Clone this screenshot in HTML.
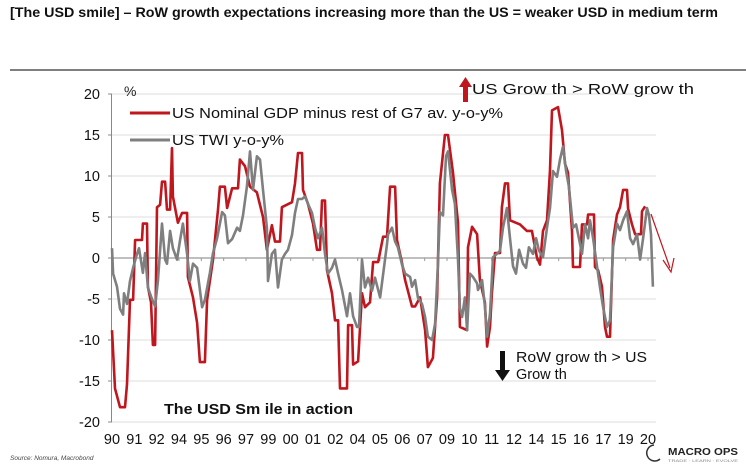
<!DOCTYPE html>
<html><head><meta charset="utf-8"><style>
html,body{margin:0;padding:0;background:#fff;}
svg{display:block;font-family:"Liberation Sans",sans-serif;}
</style></head><body>
<svg id="chart" width="746" height="464" viewBox="0 0 746 464">
  <text x="10" y="17" font-size="13.5" font-weight="bold" fill="#111" textLength="708" lengthAdjust="spacingAndGlyphs">[The USD smile] – RoW growth expectations increasing more than the US = weaker USD in medium term</text>
  <line x1="10" y1="70" x2="746" y2="70" stroke="#555" stroke-width="1.5"/>
  <g id="grid"></g>
  <g id="yaxis"></g>
  <g id="xaxis"></g>
  <g id="series"></g>
  <text x="124" y="96" font-size="14" fill="#222">%</text>
  <g>
    <g>
      <line x1="130" y1="113" x2="170" y2="113" stroke="#c0161e" stroke-width="3"/>
      <text x="172" y="118" font-size="14.5" fill="#111" textLength="331" lengthAdjust="spacingAndGlyphs">US Nominal GDP minus rest of G7 av. y-o-y%</text>
    </g>
    <g>
      <line x1="130" y1="140" x2="170" y2="140" stroke="#7f7f7f" stroke-width="3"/>
      <text x="172" y="145" font-size="14.5" fill="#111" textLength="112" lengthAdjust="spacingAndGlyphs">US TWI y-o-y%</text>
    </g>
  </g>
  <g>
    <rect x="463" y="86" width="5" height="16" fill="#c0161e"/>
    <polygon points="459,87 472,87 465.5,77" fill="#c0161e"/>
    <text x="472" y="94" font-size="14.5" fill="#111" textLength="222" lengthAdjust="spacingAndGlyphs">US Grow th &gt; RoW grow th</text>
  </g>
  <g>
    <rect x="500" y="351" width="5" height="20" fill="#111"/>
    <polygon points="495,370 510,370 502.5,381" fill="#111"/>
    <text x="516" y="362" font-size="14.5" fill="#111" textLength="131" lengthAdjust="spacingAndGlyphs">RoW grow th &gt; US</text>
    <text x="516" y="379" font-size="14.5" fill="#111">Grow th</text>
  </g>
  <g>
    <line x1="651" y1="214" x2="670" y2="268" stroke="#c0161e" stroke-width="1.2"/>
    <polyline points="663,260 671,272 674,258" fill="none" stroke="#c0161e" stroke-width="1.2"/>
  </g>
  <text x="164" y="414" font-size="15" font-weight="bold" fill="#111" textLength="189" lengthAdjust="spacingAndGlyphs">The USD Sm ile in action</text>
  <text x="10" y="460" font-size="6.5" font-style="italic" fill="#444">Source: Nomura, Macrobond</text>
  <g>
    <path d="M 654 445 A 8 8 0 1 0 660 459" fill="none" stroke="#333" stroke-width="1.5"/>
    <text x="668" y="455" font-size="10" font-weight="bold" fill="#222" textLength="70" lengthAdjust="spacingAndGlyphs">MACRO OPS</text>
    <text x="668" y="462" font-size="3.5" fill="#888" textLength="70" lengthAdjust="spacingAndGlyphs">TRADE · LEARN · EVOLVE</text>
  </g>
</svg>
<script>
const yTickValues = [20, 15, 10, 5, 0, -5, -10, -15, -20];
const xTickLabels = ["90","91","92","94","95","96","97","99","00","01","02","04","05","06","07","09","10","11","12","14","15","16","17","19","20"];
const gdpYears = [0.00,0.17,0.45,0.73,0.84,1.01,1.18,1.29,1.68,1.73,1.96,2.01,2.18,2.29,2.41,2.52,2.69,2.80,2.97,3.08,3.25,3.36,3.41,3.69,3.92,4.20,4.25,4.53,4.76,4.92,5.20,5.32,5.65,5.93,6.04,6.32,6.44,6.72,7.05,7.16,7.44,7.72,8.11,8.45,8.67,8.95,9.12,9.40,9.51,10.07,10.24,10.41,10.63,10.69,10.97,11.25,11.47,11.64,11.75,11.92,12.03,12.31,12.48,12.65,12.76,13.15,13.21,13.43,13.49,13.77,13.99,14.16,14.44,14.61,14.89,15.17,15.39,15.56,15.84,15.95,16.23,16.40,16.79,16.96,17.24,17.52,17.68,17.96,18.19,18.35,18.63,18.80,19.08,19.36,19.47,19.87,19.92,20.15,20.43,20.59,20.87,20.99,21.15,21.26,21.43,21.71,21.82,21.99,22.16,22.27,22.83,23.22,23.50,23.78,23.95,24.12,24.34,24.51,24.62,24.96,25.18,25.35,25.52,25.74,25.80,26.19,26.30,26.58,26.64,26.97,27.03,27.20,27.42,27.59,27.70,27.87,28.04,28.26,28.43,28.60,28.82,28.88,29.10,29.27,29.60,29.66,29.83];
const gdpValues = [-8.8,-15.9,-18.2,-18.2,-15.4,-5.1,-5.1,2.2,2.2,4.2,4.2,-3.5,-5.4,-10.6,-10.6,6.2,6.5,9.3,9.3,5.9,5.9,13.4,7.5,4.3,5.5,5.5,-2.3,-4.8,-7.9,-12.7,-12.7,-5.1,-0.2,5.9,8.7,8.7,6.1,8.5,8.5,12,11.2,8.7,8,5,1,4,2,2,6.2,6.8,9.1,12.8,12.8,8.3,6.6,4.2,1,1,7,7,-1.5,-4.3,-7.6,-7.6,-15.9,-15.9,-8.2,-8.2,-13,-12.6,-4.3,-6,-5.4,-0.5,-0.5,2.6,2.6,8.7,8.7,2.2,-0.6,-2.7,-5.9,-5.9,-4.8,-8.8,-13.3,-12.2,-4.8,9.1,15,15,10.4,4.3,-8.4,-8.8,1.3,3.8,2.9,-2.7,-5.4,-10.8,-8.4,-4.3,0.6,0.6,6.2,9.1,9.1,4.6,4.1,3.3,3.3,0.1,-0.8,3.3,4.6,10.7,18,18.4,15.6,11.5,10.4,3.3,-1.1,-1.1,4.1,4.1,5.3,5.3,-1.1,-1.5,-3.5,-8.4,-9.6,-9.6,2.2,5.3,6.2,8.3,8.3,6,4.1,2.9,2.9,5.7,6.3];
const twiYears = [0,0.06,0.28,0.45,0.62,0.67,0.84,1.01,1.18,1.40,1.51,1.73,1.85,2.01,2.24,2.41,2.57,2.80,2.97,3.08,3.25,3.41,3.64,3.81,3.97,4.20,4.36,4.53,4.76,5.04,5.20,5.48,5.65,5.88,6.16,6.32,6.49,6.72,7.00,7.16,7.33,7.55,7.72,7.89,8.11,8.28,8.45,8.67,8.73,8.95,9.12,9.29,9.51,9.68,9.85,10.07,10.24,10.41,10.63,10.80,10.97,11.19,11.36,11.53,11.75,11.92,12.09,12.31,12.48,12.65,12.87,13.15,13.32,13.49,13.71,13.82,13.99,14.16,14.33,14.55,14.72,15.00,15.17,15.39,15.45,15.67,15.84,16.00,16.23,16.40,16.68,16.79,16.96,17.12,17.35,17.52,17.68,17.91,18.08,18.24,18.35,18.52,18.69,18.80,19.03,19.19,19.36,19.47,19.59,19.75,19.87,20.03,20.20,20.43,20.48,20.71,20.87,20.99,21.15,21.32,21.54,21.71,21.88,22.10,22.27,22.44,22.61,22.78,23.00,23.17,23.33,23.56,23.73,23.89,24.12,24.34,24.51,24.68,24.90,25.07,25.24,25.41,25.57,25.80,25.97,26.13,26.30,26.47,26.64,26.75,26.92,27.14,27.31,27.48,27.70,27.87,28.04,28.26,28.43,28.60,28.82,28.99,29.16,29.38,29.55,29.72,29.94,30.05,30.16,30.27];
const twiValues = [1.2,-1.9,-3.5,-6.2,-6.9,-4.3,-5.6,-2.8,-1.2,0.5,1.2,-1.8,0.6,-3.6,-5,-5.9,-2.8,4.2,-0.2,-0.7,3.3,1.2,-0.2,2.2,4.2,0.5,-2.8,-0.7,-1.2,-6,-5.1,-1.8,0.6,2.4,5.6,5.2,1.8,2.3,3.7,3.3,5.2,8.7,13,8.3,12.4,12,8.3,3.7,-2.8,0.5,1,-3.6,-0.2,0.5,1,2.8,5.5,7.2,7.2,7.5,6.6,5.5,3.7,2.4,3.7,0.5,-1.9,-1.2,-0.2,-1.9,-3.9,-7.1,-4.3,-7.1,-8.4,-8.4,-0.2,-3.6,-2.4,-4,-2.4,-4.8,-2,1.7,2.9,3.7,2,1.3,-0.8,-1.9,-2.3,-3.5,-2.7,-4.8,-5.6,-7.2,-9.6,-10,-8,-0.8,5.6,5.2,12.4,13,8.3,6.6,-0.2,-6.1,-7.2,-4.8,-8.8,-1.9,-2.3,-3.1,-3.9,-2.7,-5.9,-9.6,-6.8,0.1,0.5,0.9,3.7,6.1,2.4,-1,-1.9,1,-0.7,-1.2,1.3,0.5,2.4,0.9,0.1,3.7,6.1,10.6,9.9,12,13.6,10.6,8.7,3.7,4.1,2.4,0.5,4.1,2.4,4.6,2.4,-1,-3.6,-6,-8.4,-7.6,1.3,4.2,3.4,4.6,5.7,2.4,1.7,2.9,-0.2,2.4,6.1,5.2,2.9,-3.5];

const NS = "http://www.w3.org/2000/svg";
const plotL = 112, plotR = 656, y0px = 258, pxPerUnit = 8.2, pxPerYear = 17.87;
function xScale(t){ return plotL + t * pxPerYear; }
function yScale(v){ return y0px - v * pxPerUnit; }
function mk(tag, attrs, parent){ const e = document.createElementNS(NS, tag); for (const k in attrs) e.setAttribute(k, attrs[k]); parent.appendChild(e); return e; }

const grid = document.getElementById('grid');
const yaxis = document.getElementById('yaxis');
yTickValues.forEach(v => {
  const y = yScale(v);
  const gl = mk('line', {x1: plotL, x2: plotR, y1: y, y2: y, stroke: v === 0 ? '#999' : '#e3e3e3', 'stroke-width': v === 0 ? 1.2 : 1.2}, grid);
  
  
  const tk = mk('line', {x1: plotL - 4, x2: plotL, y1: y, y2: y, stroke: '#888', 'stroke-width': 1}, yaxis);
  
  
  const lb = mk('text', {x: 100, y: y + 5, 'text-anchor': 'end', 'font-size': 14.5, fill: '#111'}, yaxis);
  lb.textContent = String(v);
  
  
});
const ax = mk('line', {x1: plotL - 0.5, x2: plotL - 0.5, y1: yScale(20), y2: yScale(-20), stroke: '#888', 'stroke-width': 1}, yaxis);



const xaxis = document.getElementById('xaxis');
const xl0 = 112, xl1 = 648;
xTickLabels.forEach((s, i) => {
  const x = xl0 + i * (xl1 - xl0) / (xTickLabels.length - 1);
  const t = mk('text', {x: x, y: 444, 'text-anchor': 'middle', 'font-size': 14.5, fill: '#111'}, xaxis);
  t.textContent = s;
  
  
  if (i > 0 && i < xTickLabels.length) {
    const tk = mk('line', {x1: x, x2: x, y1: y0px, y2: y0px + 3, stroke: '#999', 'stroke-width': 1}, xaxis);
    
    
  }
});

const series = document.getElementById('series');
function drawLine(xs, vs, color, name){
  const pts = xs.map((t, i) => xScale(t).toFixed(1) + ',' + yScale(vs[i]).toFixed(1)).join(' ');
  const p = mk('polyline', {points: pts, fill: 'none', stroke: color, 'stroke-width': 2.6, 'stroke-linejoin': 'round'}, series);
  
  
}
drawLine(gdpYears, gdpValues, '#c0161e', 'us-gdp-minus-g7-line');
drawLine(twiYears, twiValues, '#7f7f7f', 'us-twi-line');
</script>
</body></html>
